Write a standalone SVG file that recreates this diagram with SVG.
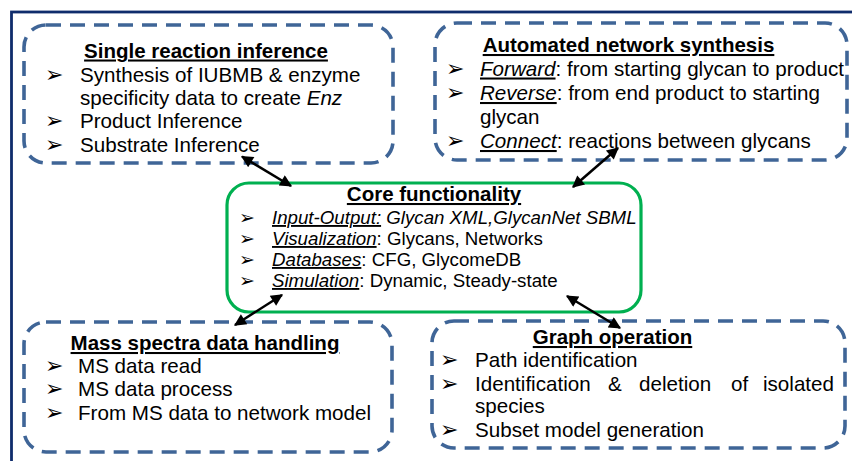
<svg xmlns="http://www.w3.org/2000/svg" width="852" height="461" viewBox="0 0 852 461">
<style>
  text { font-family: "Liberation Sans", Arial, sans-serif; fill: #000; }
  .t { font-size: 20.5px; font-weight: bold; text-decoration: underline; text-anchor: middle; }
  .b { font-size: 20.6px; }
  .c { font-size: 18.7px; }
  .bl { font-family: "DejaVu Sans", sans-serif; font-size: 22px; }
  .bs { font-family: "DejaVu Sans", sans-serif; font-size: 19px; }
  .u { text-decoration: underline; }
  .i { font-style: italic; }
  .dash { fill: none; stroke: #3f6597; stroke-width: 3.6; stroke-dasharray: 15 9; }
  .core { fill: none; stroke: #00b050; stroke-width: 3.2; }
  .frame { fill: none; stroke: #0f2c6c; stroke-width: 2.8; }
  .arr { stroke: #000; stroke-width: 2.5; marker-start: url(#ah); marker-end: url(#ah); }
</style>
<defs>
  <marker id="ah" viewBox="0 0 10 10" refX="9" refY="5" markerWidth="5.6" markerHeight="4.8" orient="auto-start-reverse" markerUnits="strokeWidth">
    <path d="M0,0 L10,5 L0,10 z" fill="#000"/>
  </marker>
</defs>
<rect width="852" height="461" fill="#fff"/>
<rect class="frame" x="11.5" y="12" width="860" height="470"/>

<g id="single-reaction">
  <rect class="dash" x="24" y="25" width="369" height="138" rx="22"/>
  <text class="t" x="206" y="57.5">Single reaction inference</text>
  <text class="bl" x="45" y="82">➢</text>
  <text class="b" x="80" y="82">Synthesis of IUBMB &amp; enzyme</text>
  <text class="b" x="80" y="104.5">specificity data to create <tspan class="i">Enz</tspan></text>
  <text class="bl" x="45" y="128">➢</text>
  <text class="b" x="80" y="128">Product Inference</text>
  <text class="bl" x="45" y="151.5">➢</text>
  <text class="b" x="80" y="151.5">Substrate Inference</text>
</g>

<g id="network-synthesis">
  <rect class="dash" x="435" y="23" width="412" height="137" rx="22"/>
  <text class="t" x="628.5" y="52">Automated network synthesis</text>
  <text class="bl" x="446" y="75.5">➢</text>
  <text class="b" x="480" y="75.5"><tspan class="i u">Forward</tspan>: from starting glycan to product</text>
  <text class="bl" x="446" y="100">➢</text>
  <text class="b" x="480" y="100"><tspan class="i u">Reverse</tspan>: from end product to starting</text>
  <text class="b" x="480" y="123.5">glycan</text>
  <text class="bl" x="446" y="148">➢</text>
  <text class="b" x="480" y="148"><tspan class="i u">Connect</tspan>: reactions between glycans</text>
</g>

<g id="core">
  <rect class="core" x="227" y="183" width="414" height="129" rx="22"/>
  <text class="t" x="434" y="201">Core functionality</text>
  <text class="bs" x="239" y="224">➢</text>
  <text class="c i" x="272" y="224"><tspan class="u">Input-Output:</tspan> Glycan XML,GlycanNet SBML</text>
  <text class="bs" x="239" y="245">➢</text>
  <text class="c" x="272" y="245"><tspan class="i u">Visualization</tspan>: Glycans, Networks</text>
  <text class="bs" x="239" y="266">➢</text>
  <text class="c" x="272" y="266"><tspan class="i u">Databases</tspan>: CFG, GlycomeDB</text>
  <text class="bs" x="239" y="287">➢</text>
  <text class="c" x="272" y="287"><tspan class="i u">Simulation</tspan>: Dynamic, Steady-state</text>
</g>

<g id="mass-spectra">
  <rect class="dash" x="24" y="322" width="368" height="130" rx="22"/>
  <text class="t" x="205" y="350">Mass spectra data handling</text>
  <text class="bl" x="45" y="373">➢</text>
  <text class="b" x="78" y="373">MS data read</text>
  <text class="bl" x="45" y="396">➢</text>
  <text class="b" x="78" y="396">MS data process</text>
  <text class="bl" x="45" y="420">➢</text>
  <text class="b" x="78" y="420">From MS data to network model</text>
</g>

<g id="graph-operation">
  <rect class="dash" x="432" y="321" width="413" height="127" rx="22"/>
  <text class="t" x="612.5" y="344">Graph operation</text>
  <text class="bl" x="440" y="367">➢</text>
  <text class="b" x="475" y="367">Path identification</text>
  <text class="bl" x="440" y="391">➢</text>
  <text class="b" y="391"><tspan x="475">Identification</tspan><tspan x="608">&amp;</tspan><tspan x="639">deletion</tspan><tspan x="731">of</tspan><tspan x="763">isolated</tspan></text>
  <text class="b" x="475" y="413">species</text>
  <text class="bl" x="440" y="437">➢</text>
  <text class="b" x="475" y="437">Subset model generation</text>
</g>

<g id="connectors">
  <line class="arr" x1="242" y1="156.5" x2="291" y2="186"/>
  <line class="arr" x1="618" y1="148" x2="573" y2="187"/>
  <line class="arr" x1="282" y1="295" x2="235" y2="325"/>
  <line class="arr" x1="567" y1="296" x2="620" y2="328"/>
</g>
</svg>
